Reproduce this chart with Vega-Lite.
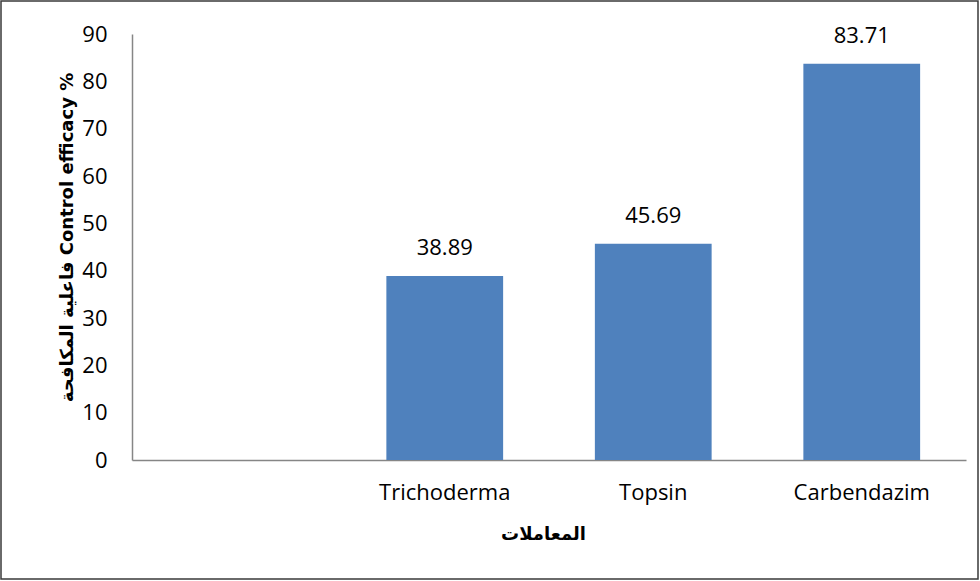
{
  "$schema": "https://vega.github.io/schema/vega-lite/v6.json",
  "autosize": {"type": "none"},
  "padding": {"left": 1, "top": 1, "right": 2, "bottom": 2},
  "width": 977,
  "height": 578,
  "background": "white",
  "config": {
    "view": {"stroke": "#3a3a3a", "strokeWidth": 1.5},
    "font": "Open Sans"
  },
  "data": {
    "values": [
      {"treatment": " ", "efficacy": null},
      {"treatment": "Trichoderma", "efficacy": 38.89},
      {"treatment": "Topsin", "efficacy": 45.69},
      {"treatment": "Carbendazim", "efficacy": 83.71}
    ]
  },
  "encoding": {
    "x": {
      "field": "treatment",
      "type": "nominal",
      "sort": null,
      "scale": {"domain": [" ", "Trichoderma", "Topsin", "Carbendazim"], "range": [131, 965], "paddingInner": 0.44, "paddingOuter": 0.22},
      "axis": {
        "title": "المعاملات",
        "labelAngle": 0,
        "offset": -119,
        "ticks": false,
        "domainColor": "#868686",
        "domainWidth": 1.5,
        "labelPadding": 22,
        "labelFontSize": 22,
        "labelColor": "#000",
        "labelFont": "Open Sans",
        "titleFontSize": 18,
        "titleFontWeight": "bold",
        "titleColor": "#000",
        "titleFont": "DejaVu Sans",
        "titlePadding": 22,
        "titleX": 542
      }
    },
    "y": {
      "field": "efficacy",
      "type": "quantitative",
      "scale": {"domain": [0, 90], "range": [459, 33], "nice": false},
      "axis": {
        "title": "فاعلية المكافحة Control efficacy %",
        "values": [0, 10, 20, 30, 40, 50, 60, 70, 80, 90],
        "grid": false,
        "ticks": false,
        "offset": -131,
        "domainColor": "#868686",
        "domainWidth": 1.5,
        "labelPadding": 25,
        "labelFontSize": 22,
        "labelColor": "#000",
        "labelFont": "Open Sans",
        "titleFontSize": 18,
        "titleFontWeight": "bold",
        "titleColor": "#000",
        "titleFont": "DejaVu Sans",
        "titlePadding": 5,
        "titleY": 236
      }
    }
  },
  "layer": [
    {"mark": {"type": "bar", "color": "#4f81bd"}},
    {
      "mark": {"type": "text", "dy": -28, "fontSize": 22, "color": "#000", "font": "Open Sans", "baseline": "middle"},
      "encoding": {"text": {"field": "efficacy", "type": "quantitative", "format": ".2f"}}
    }
  ]
}
